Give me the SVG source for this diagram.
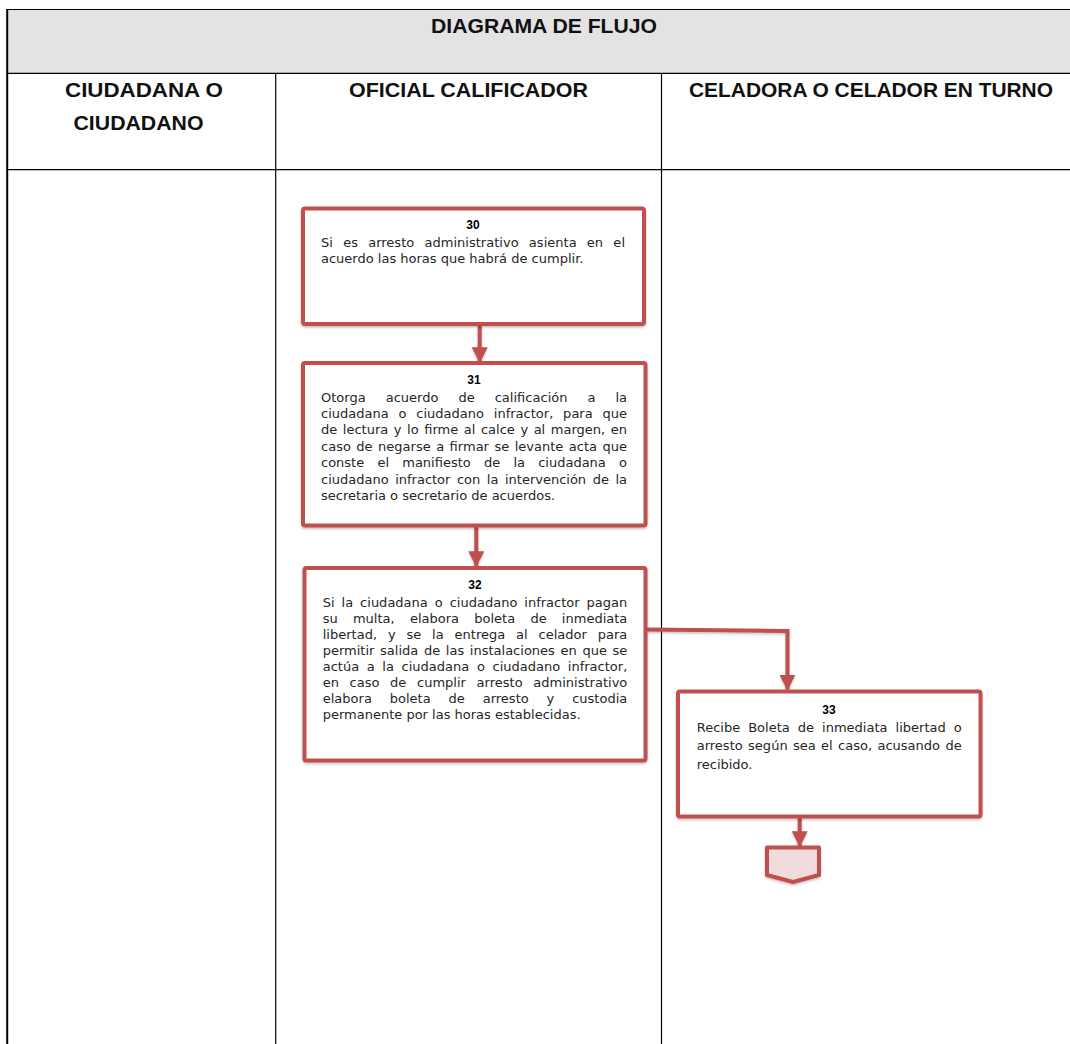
<svg xmlns="http://www.w3.org/2000/svg" width="1070" height="1044" viewBox="0 0 1070 1044">
<defs>
<style>
.grid{stroke:#000;stroke-width:1.2;fill:none}
.hdr{font-family:"Liberation Sans",Arial,sans-serif;font-weight:bold;font-size:20px;fill:#111}
.box{fill:#fff;stroke:#c0504d;stroke-width:4;filter:url(#sh)}
.num{font-family:"Liberation Sans",Arial,sans-serif;font-weight:bold;font-size:12px;fill:#000;text-anchor:middle}
.txt{font-family:"DejaVu Sans","Liberation Sans",sans-serif;font-size:13px;fill:#262626}
.con{fill:none;stroke:#c0504d;stroke-width:4}
</style>
<filter id="sh" filterUnits="userSpaceOnUse" x="0" y="0" width="1070" height="1044">
<feDropShadow dx="0" dy="1.5" stdDeviation="1.2" flood-color="#000" flood-opacity="0.25"/>
</filter>
<marker id="ah" markerUnits="userSpaceOnUse" markerWidth="16" markerHeight="16" viewBox="0 0 14 14" refX="13" refY="7" orient="auto">
<path d="M0,0 L14,7 L0,14 Z" fill="#c0504d"/>
</marker>
</defs>

<g id="table">
<rect x="7" y="9.5" width="1063" height="63.5" fill="#e3e3e3"/>
<line class="grid" x1="7" y1="9.5" x2="1070" y2="9.5"/>
<line x1="7.2" y1="9" x2="7.2" y2="1044" stroke="#000" stroke-width="2"/>
<line class="grid" x1="7" y1="73.3" x2="1070" y2="73.3"/>
<line class="grid" x1="7" y1="169.7" x2="1070" y2="169.7"/>
<line class="grid" x1="275.7" y1="73.3" x2="275.7" y2="1044"/>
<line class="grid" x1="661.5" y1="73.3" x2="661.5" y2="1044"/>
<text class="hdr" x="431" y="33" textLength="226" lengthAdjust="spacingAndGlyphs">DIAGRAMA DE FLUJO</text>
<text class="hdr" x="65" y="96.7" textLength="158" lengthAdjust="spacingAndGlyphs">CIUDADANA O</text>
<text class="hdr" x="73.5" y="130" textLength="130" lengthAdjust="spacingAndGlyphs">CIUDADANO</text>
<text class="hdr" x="349" y="96.7" textLength="239" lengthAdjust="spacingAndGlyphs">OFICIAL CALIFICADOR</text>
<text class="hdr" x="689" y="96.7" textLength="364" lengthAdjust="spacingAndGlyphs">CELADORA O CELADOR EN TURNO</text>
</g>

<g id="connectors" filter="url(#sh)">
<path class="con" d="M479.7,324 L479.7,362" marker-end="url(#ah)"/>
<path class="con" d="M476.3,525.5 L476.3,566" marker-end="url(#ah)"/>
<path class="con" d="M645.5,629.5 L787.5,631 L787.5,689.5" marker-end="url(#ah)"/>
<path class="con" d="M799.7,816.5 L799.7,846" marker-end="url(#ah)"/>
</g>

<g id="node30">
<rect class="box" x="303" y="208.5" width="341" height="115.5" rx="2"/>
<text class="num" x="473" y="229">30</text>
<text class="txt" x="321" y="246.5" word-spacing="6.1" textLength="304" lengthAdjust="spacing">Si es arresto administrativo asienta en el</text>
<text class="txt" x="321" y="262.8">acuerdo las horas que habrá de cumplir.</text>
</g>

<g id="node31">
<rect class="box" x="303" y="363" width="342.5" height="162.5" rx="2"/>
<text class="num" x="474" y="384">31</text>
<text class="txt" x="321" y="401.7" word-spacing="15.8" textLength="306" lengthAdjust="spacing">Otorga acuerdo de calificación a la</text>
<text class="txt" x="321" y="418.1" word-spacing="5.7" textLength="306" lengthAdjust="spacing">ciudadana o ciudadano infractor, para que</text>
<text class="txt" x="321" y="434.4" word-spacing="1.4" textLength="306" lengthAdjust="spacing">de lectura y lo firme al calce y al margen, en</text>
<text class="txt" x="321" y="450.8" word-spacing="1.3" textLength="306" lengthAdjust="spacing">caso de negarse a firmar se levante acta que</text>
<text class="txt" x="321" y="467.2" word-spacing="9.1" textLength="306" lengthAdjust="spacing">conste el manifiesto de la ciudadana o</text>
<text class="txt" x="321" y="483.6" word-spacing="2.4" textLength="306" lengthAdjust="spacing">ciudadano infractor con la intervención de la</text>
<text class="txt" x="321" y="499.9">secretaria o secretario de acuerdos.</text>
</g>

<g id="node32">
<rect class="box" x="304.5" y="568" width="341" height="192.5" rx="2"/>
<text class="num" x="475" y="589">32</text>
<text class="txt" x="322.7" y="606.7" word-spacing="2.85" textLength="304.6" lengthAdjust="spacing">Si la ciudadana o ciudadano infractor pagan</text>
<text class="txt" x="322.7" y="622.8" word-spacing="11.1" textLength="304.6" lengthAdjust="spacing">su multa, elabora boleta de inmediata</text>
<text class="txt" x="322.7" y="638.9" word-spacing="6.7" textLength="304.6" lengthAdjust="spacing">libertad, y se la entrega al celador para</text>
<text class="txt" x="322.7" y="655" word-spacing="1.5" textLength="304.6" lengthAdjust="spacing">permitir salida de las instalaciones en que se</text>
<text class="txt" x="322.7" y="671.1" word-spacing="3.5" textLength="304.6" lengthAdjust="spacing">actúa a la ciudadana o ciudadano infractor,</text>
<text class="txt" x="322.7" y="687.2" word-spacing="6.5" textLength="304.6" lengthAdjust="spacing">en caso de cumplir arresto administrativo</text>
<text class="txt" x="322.7" y="703.3" word-spacing="13.7" textLength="304.6" lengthAdjust="spacing">elabora boleta de arresto y custodia</text>
<text class="txt" x="322.7" y="719.4">permanente por las horas establecidas.</text>
</g>

<g id="node33">
<rect class="box" x="678" y="691.5" width="302.5" height="125" rx="2"/>
<text class="num" x="829" y="714">33</text>
<text class="txt" x="696.7" y="731.7" word-spacing="3.8" textLength="265" lengthAdjust="spacing">Recibe Boleta de inmediata libertad o</text>
<text class="txt" x="696.7" y="750.3" word-spacing="1.2" textLength="265" lengthAdjust="spacing">arresto según sea el caso, acusando de</text>
<text class="txt" x="696.7" y="769">recibido.</text>
</g>

<g id="offpage">
<path d="M767,847.5 L819,847.5 L819,875 L793,882 L767,875 Z" fill="#f2dcdb" stroke="#c0504d" stroke-width="4" stroke-linejoin="round" filter="url(#sh)"/>
</g>
</svg>
